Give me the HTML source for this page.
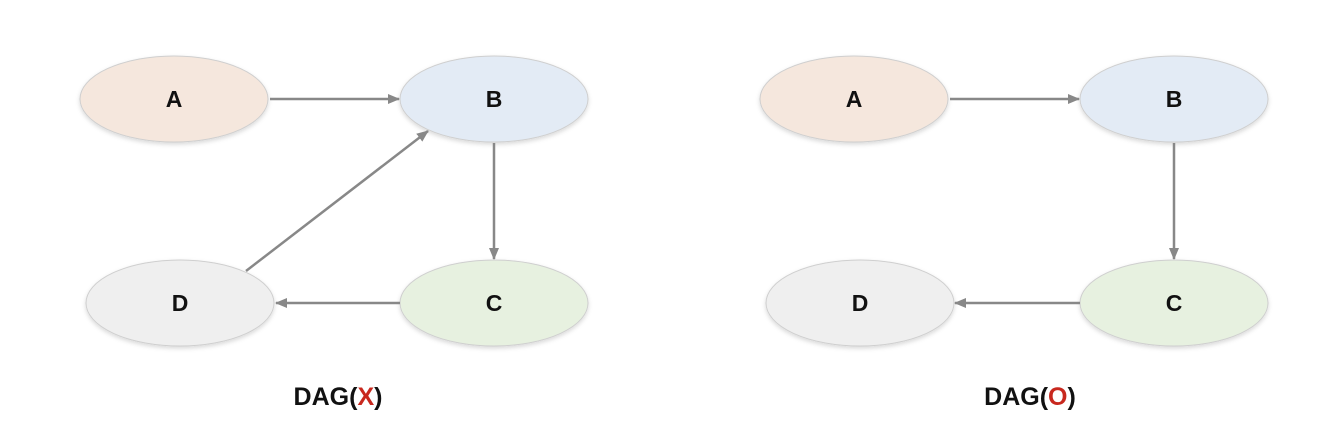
<!DOCTYPE html>
<html><head><meta charset="utf-8"><style>
html,body{margin:0;padding:0;background:#fff;width:1328px;height:428px;overflow:hidden}
svg text{font-family:"Liberation Sans",sans-serif;font-weight:bold}
</style></head><body>
<svg width="1328" height="428" viewBox="0 0 1328 428" xmlns="http://www.w3.org/2000/svg">
<defs>
<marker id="ah" markerWidth="12" markerHeight="12" refX="11" refY="6" orient="auto" markerUnits="userSpaceOnUse">
<path d="M0,1 L12,6 L0,11 Z" fill="#888"/>
</marker>
<filter id="sh" x="-10%" y="-10%" width="120%" height="130%"><feDropShadow dx="0" dy="2" stdDeviation="2" flood-color="#000" flood-opacity="0.15"/></filter>
</defs>
<g stroke="#cfcfcf" stroke-width="1" filter="url(#sh)">
<ellipse cx="174" cy="99" rx="94" ry="43" fill="#f5e7dd"/>
<ellipse cx="494" cy="99" rx="94" ry="43" fill="#e3ebf5"/>
<ellipse cx="180" cy="303" rx="94" ry="43" fill="#efefef"/>
<ellipse cx="494" cy="303" rx="94" ry="43" fill="#e7f1e0"/>
<ellipse cx="854" cy="99" rx="94" ry="43" fill="#f5e7dd"/>
<ellipse cx="1174" cy="99" rx="94" ry="43" fill="#e3ebf5"/>
<ellipse cx="860" cy="303" rx="94" ry="43" fill="#efefef"/>
<ellipse cx="1174" cy="303" rx="94" ry="43" fill="#e7f1e0"/>
</g>
<g stroke="#888" stroke-width="2.5" fill="none" marker-end="url(#ah)">
<line x1="270" y1="99" x2="399" y2="99"/>
<line x1="494" y1="143" x2="494" y2="259"/>
<line x1="400" y1="303" x2="276" y2="303"/>
<line x1="246" y1="271" x2="428" y2="131"/>
<line x1="950" y1="99" x2="1079" y2="99"/>
<line x1="1174" y1="143" x2="1174" y2="259"/>
<line x1="1080" y1="303" x2="955" y2="303"/>
</g>
<g font-size="23" text-anchor="middle" fill="#111">
<text x="174" y="107">A</text><text x="494" y="107">B</text>
<text x="180" y="311">D</text><text x="494" y="311">C</text>
<text x="854" y="107">A</text><text x="1174" y="107">B</text>
<text x="860" y="311">D</text><text x="1174" y="311">C</text>
</g>
<g font-size="25" text-anchor="middle" fill="#111">
<text x="338" y="405">DAG(<tspan fill="#c8281e">X</tspan>)</text>
<text x="1030" y="405">DAG(<tspan fill="#c8281e">O</tspan>)</text>
</g>
</svg>
</body></html>
